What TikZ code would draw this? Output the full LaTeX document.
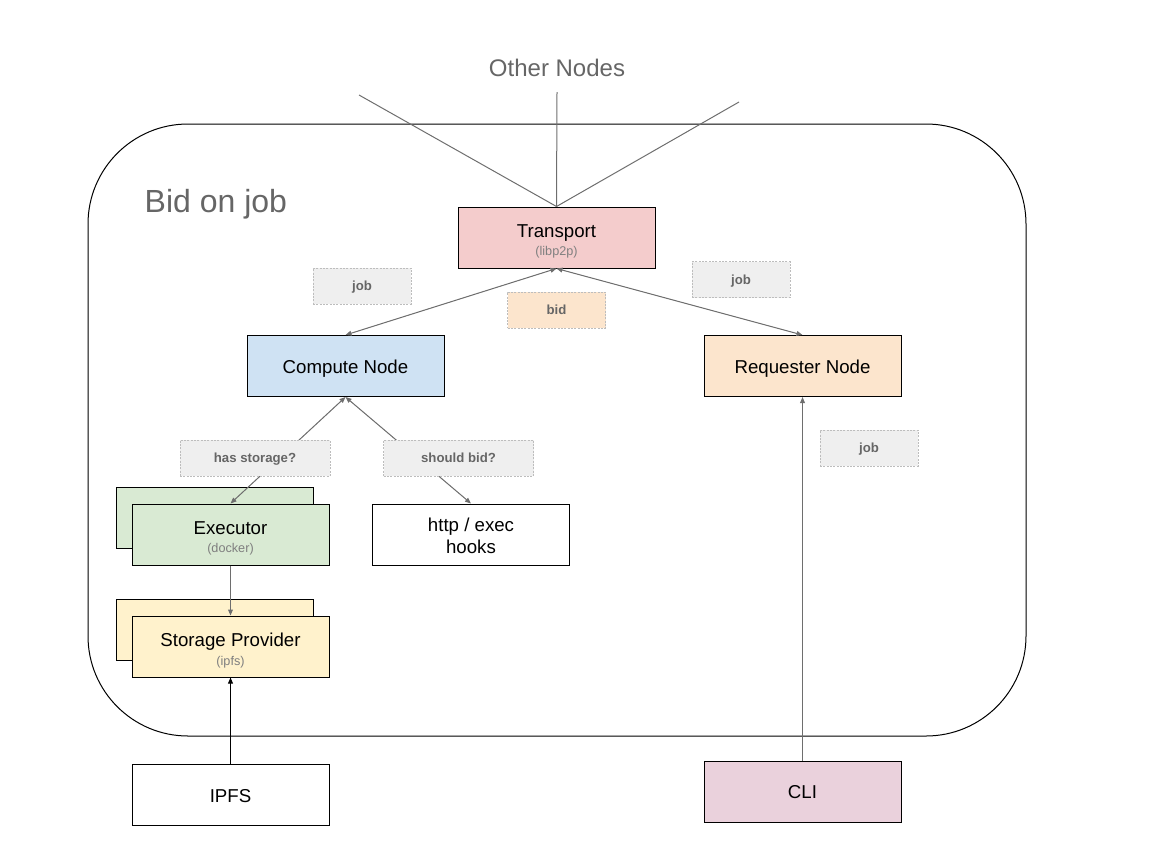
\documentclass[tikz,border=0pt]{standalone}
\usepackage{fontspec}
\setmainfont{Liberation Sans}
\usetikzlibrary{arrows.meta}
\definecolor{ttext}{HTML}{666666}
\definecolor{subgray}{HTML}{7F7F7F}
\definecolor{lgray}{HTML}{EFEFEF}
\definecolor{lborder}{HTML}{BDBDBD}
\definecolor{cpink}{HTML}{F4CCCC}
\definecolor{cblue}{HTML}{CFE2F3}
\definecolor{corange}{HTML}{FCE5CD}
\definecolor{cgreen}{HTML}{D9EAD3}
\definecolor{cyellow}{HTML}{FFF2CC}
\definecolor{cmauve}{HTML}{EAD1DC}
\definecolor{lgrayline}{HTML}{6E6E6E}
\newcommand{\subfont}{\fontsize{9.5}{11}\selectfont\color{subgray}}
% one line of fixed height/depth (single-line boxes)
\newcommand{\oneline}[1]{\raisebox{0pt}[11.5pt][0.5pt]{#1}}
% a lowered line keeping its natural dimensions (two-line boxes)
\newcommand{\lowline}[2]{\raisebox{-#1}[\height][\depth]{#2}}
\newcommand{\lbltext}[1]{\raisebox{0pt}[7pt][0pt]{#1}}
\tikzset{
  box/.style={draw=black, line width=0.75pt, minimum width=147.75pt, minimum height=45.75pt,
    inner sep=0pt, align=center, font=\fontsize{14}{16.5}\selectfont},
  lbl/.style={draw=lborder, dash pattern=on 1.5pt off 1pt, line width=0.6pt, fill=lgray,
    minimum width=73.5pt, minimum height=27pt, inner sep=0pt, text=ttext,
    font=\bfseries\fontsize{9.9}{11}\selectfont},
  conn/.style={draw=lgrayline, line width=0.75pt},
  tip/.tip={Triangle[length=4.5pt,width=3.6pt]},
}
\begin{document}
\begin{tikzpicture}[x=0.75pt,y=-0.75pt]
\useasboundingbox (0,0) rectangle (1152,864);
% frame
\draw[line width=0.75pt, rounded corners=75pt] (88,124) rectangle (1026,736);
\node[text=ttext, font=\fontsize{24}{28}\selectfont, anchor=west] (title) at (140,204) {Bid on job};
\node[text=ttext, font=\fontsize{18}{21}\selectfont] (other) at (557,68) {Other Nodes};
\coordinate (o1) at (359,95);
\coordinate (o2) at (557,92);
\coordinate (o3) at (739,102);

% boxes
\node[box, fill=cpink] (tr) at (556.5,237.5) {\lowline{3pt}{Transport}\\[-2.8pt]\lowline{3pt}{\subfont (libp2p)}};
\node[box, fill=cblue] (cn) at (345.5,366) {\oneline{Compute Node}};
\node[box, fill=corange] (rn) at (802.5,366) {\oneline{Requester Node}};
\node[box, fill=cgreen] (exb) at (214.5,518) {};
\node[box, fill=cgreen] (ex) at (230.5,534.5) {\lowline{3pt}{Executor}\\[-2.8pt]\lowline{3pt}{\subfont (docker)}};
\node[box, fill=white] (hk) at (471,534.5) {\lowline{0.8pt}{http / exec}\\\lowline{0.8pt}{hooks}};
\node[box, fill=cyellow] (spb) at (214.5,630) {};
\node[box, fill=cyellow] (sp) at (230.5,646.5) {\lowline{3pt}{Storage Provider}\\[-2.8pt]\lowline{3pt}{\subfont (ipfs)}};
\node[box, fill=white] (ipfs) at (230.5,795) {\oneline{IPFS}};
\node[box, fill=cmauve] (cli) at (802.5,791.5) {\oneline{CLI}};

% connectors
\draw[conn] (o1) -- (tr.north);
\draw[conn] (o2) -- (tr.north);
\draw[conn] (o3) -- (tr.north);
\draw[conn, tip-tip, fill=lgrayline] (tr.south) -- (cn.north);
\draw[conn, tip-tip, fill=lgrayline] (tr.south) -- (rn.north);
\draw[conn, tip-tip, fill=lgrayline] (cn.south) -- (ex.north);
\draw[conn, tip-tip, fill=lgrayline] (cn.south) -- (hk.north);
\draw[conn, -tip, fill=lgrayline] (ex.south) -- (sp.north);
\draw[line width=0.75pt, -tip] (ipfs.north) -- (sp.south);
\draw[conn, -tip, fill=lgrayline] (cli.north) -- (rn.south);

% labels
\node[lbl] (l1) at (362,286) {\lbltext{job}};
\node[lbl, fill=corange] (l2) at (556.5,310) {\lbltext{bid}};
\node[lbl] (l3) at (741,279.5) {\lbltext{job}};
\node[lbl, minimum width=112.5pt] (l4) at (255,458) {\lbltext{has storage?}};
\node[lbl, minimum width=112.5pt] (l5) at (458.5,458) {\lbltext{should bid?}};
\node[lbl] (l6) at (869,448) {\lbltext{job}};
\end{tikzpicture}
\end{document}
